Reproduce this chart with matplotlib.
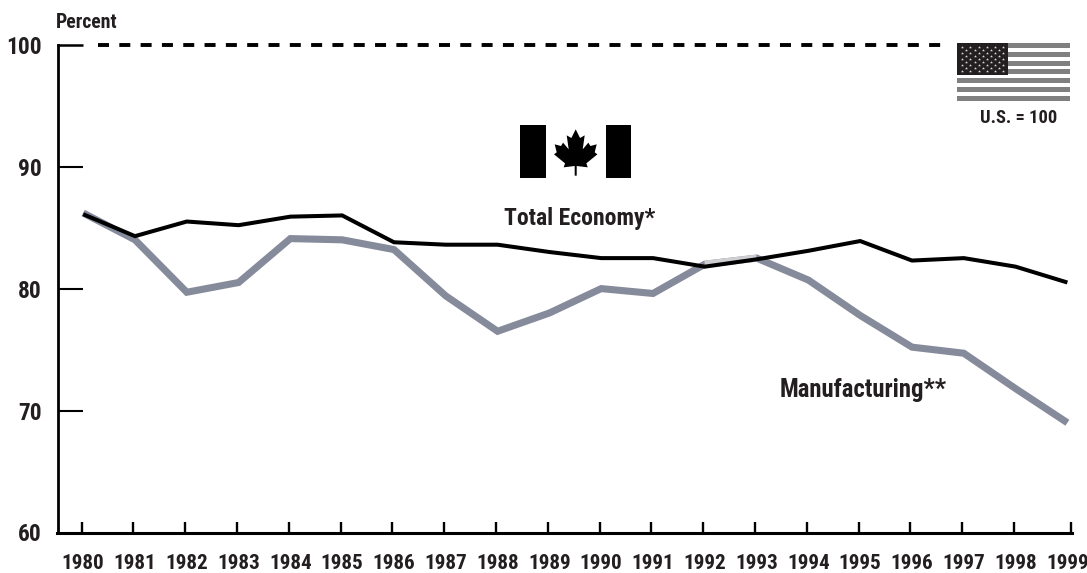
import numpy as np
import matplotlib
matplotlib.use('Agg')
import matplotlib.pyplot as plt
from matplotlib.patches import Rectangle, Polygon

years = list(range(1980, 2000))
total_economy = [86.1, 84.3, 85.5, 85.2, 85.9, 86.0, 83.8, 83.6, 83.6, 83.0,
                 82.5, 82.5, 81.8, 82.4, 83.1, 83.9, 82.3, 82.5, 81.8, 80.5]
manufacturing = [86.2, 84.0, 79.7, 80.5, 84.1, 84.0, 83.2, 79.4, 76.5, 78.0,
                 80.0, 79.6, 82.0, 82.5, 80.7, 77.8, 75.2, 74.7, 71.8, 69.0]
y_ticks = [70, 80, 90]
y_labels = [60, 70, 80, 90, 100]

W, H = 1087, 573
INK = '#231f20'
plt.rcParams['font.family'] = ['Roboto Condensed', 'DejaVu Sans']
plt.rcParams['font.weight'] = 'bold'

fig = plt.figure(figsize=(W / 100, H / 100), dpi=100)

# axes box in pixels
left, right, top, bottom = 57.5, 1072.0, 44.7, 532.5
ax = fig.add_axes([left / W, 1 - bottom / H, (right - left) / W, (bottom - top) / H])
ax.set_ylim(60, 100)
ax.set_xlim(1979.504, 1999.089)
ax.patch.set_alpha(0)

ax.spines['top'].set_visible(False)
ax.spines['right'].set_visible(False)
ax.spines['left'].set_linewidth(2.0)
ax.spines['bottom'].set_linewidth(2.2)
ax.spines['left'].set_color('black')
ax.spines['bottom'].set_color('black')

# ticks sit a bit left of the data, last one is at the end of the axis
tick_pos = [y - 0.03 for y in years[:-1]] + [1999.07]
ax.set_xticks(tick_pos)
ax.set_xticklabels([])
ax.tick_params(axis='x', which='major', direction='in', length=8.2, width=1.7, color='black')
ax.set_xticks(years, minor=True)
ax.set_xticklabels([str(y) for y in years], minor=True, fontsize=15.2, color=INK)
ax.tick_params(axis='x', which='minor', length=0, pad=15.5)

ax.yaxis.remove_overlapping_locs = False
ax.set_yticks(y_ticks)
ax.set_yticklabels([])
ax.tick_params(axis='y', which='major', direction='in', length=18.3, width=1.5, color='black')
ax.set_yticks(y_labels, minor=True)
ax.set_yticklabels([str(y) for y in y_labels], minor=True, fontsize=16.8, color=INK)
ax.tick_params(axis='y', which='minor', length=0, pad=11.5)

# U.S. = 100 reference line
ax.plot([1979.504, 1980.0], [100, 100], color='black', lw=1.8, solid_capstyle='butt', clip_on=False)
ax.plot([1980.28, 1996.56], [100, 100], color='black', lw=2.8, dashes=(2.83, 2.65),
        dash_capstyle='butt', clip_on=False)

ax.plot(years, manufacturing, color='#868b9b', lw=5.1, solid_capstyle='butt',
        solid_joinstyle='miter', zorder=2)
ax.plot(years[12:14], manufacturing[12:14], color='#cfcfd2', lw=5.1, solid_capstyle='butt', zorder=2.1)
ax.plot(years, total_economy, color='black', lw=2.9, solid_capstyle='butt',
        solid_joinstyle='miter', zorder=3)

# overlay in pixel coordinates for the flags and labels
ov = fig.add_axes([0, 0, 1, 1])
ov.set_xlim(0, W)
ov.set_ylim(H, 0)
ov.axis('off')
ov.patch.set_alpha(0)

ov.text(56, 22.5, 'Percent', fontsize=14.2, color=INK, ha='left', va='center')
ov.text(580, 219, 'Total Economy*', fontsize=17, color=INK, ha='center', va='center')
ov.text(863.5, 390, 'Manufacturing**', fontsize=17.8, color=INK, ha='center', va='center')
ov.text(1018.5, 118, 'U.S. = 100', fontsize=13.3, color=INK, ha='center', va='center')

# U.S. flag
stripes_y = [43, 51.7, 60.7, 69, 78, 87, 96]
for sy in stripes_y:
    ov.add_patch(Rectangle((957, sy), 113, 5.2, color='#808080', lw=0))
ov.add_patch(Rectangle((957, 43), 51, 32, color=INK, lw=0, zorder=3))
for r in range(9):
    n = 6 if r % 2 == 0 else 5
    x0 = 962.3 if r % 2 == 0 else 966.4
    xs = [x0 + 8.1 * i for i in range(n)]
    ov.scatter(xs, [47 + 2.96 * r] * n, marker='*', s=5, color='#d8d8d8', lw=0, zorder=4)

# Canadian flag
ov.add_patch(Rectangle((520, 125.3), 25.7, 53, color='black', lw=0))
ov.add_patch(Rectangle((605.7, 125.3), 25.4, 53, color='black', lw=0))
half = [(0, 58), (13, 84), (27, 76), (21, 118), (38, 98), (44, 108), (63, 103),
        (57, 127), (65, 133), (32, 160), (36, 172), (3, 168), (3, 197)]
leaf = np.array(half + [(-a, b) for a, b in half[::-1]], dtype=float)
leaf[:, 0] = 575.7 + leaf[:, 0] / 3
leaf[:, 1] = 110 + leaf[:, 1] / 3
ov.add_patch(Polygon(leaf, closed=True, color='black', lw=0))

fig.savefig('out.png', dpi=100)
